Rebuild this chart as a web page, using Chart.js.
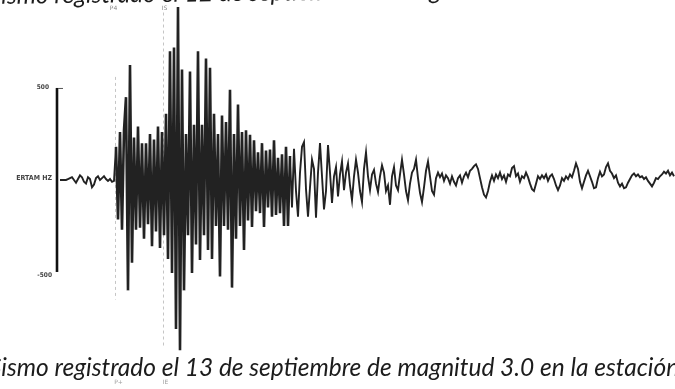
<!DOCTYPE html>
<html>
<head>
<meta charset="utf-8">
<script src="https://cdn.jsdelivr.net/npm/chart.js@4.4.1/dist/chart.umd.min.js"></script>
<style>
  html, body { margin: 0; padding: 0; background: #fff; overflow: hidden; }
  #wrap { position: relative; width: 675px; height: 389px; }
</style>
</head>
<body>
<div id="wrap"><canvas id="c" width="675" height="389"></canvas></div>
<script>
// Vertical-component record, one sample per step (counts)
const stationLabel = 'ERTAM HZ';
const scaleBarTicks = ['500', '-500'];
const scaleBarValues = [500, -500];
const pickLabelsTop = ['P4', 'IS'];
const pickLabelsBottom = ['P+', 'IE'];
const pickSamples = [27.5, 51.5];
const strongMotionSamples = [28, 115];
const caption = 'Sismo registrado el 13 de septiembre de magnitud 3.0 en la estación';
const previousCaption = 'Sismo registrado el 12 de septiembre de magnitud 2.9 en la estación';

const counts = [
  0, 0, 0,
  0, 5, 10, 15, 0, -15, 5, 25, 15, -10, -20, 15, 5, -40, -25, 10, 20, 0, 10, 20, 5, -5, 5, -10, -5,
  180, -215, 260, -270, 270, 450, -600, 625, -450, 230, -270, 290, -260, 200, -320, 200, -240, 250, -360,
  220, -280, 290, -370, 260, -300, 360, -430, 700, -505, 720, -810, 940, -925, 600, -600, 250, -300,
  590, -505, 300, -350, 700, -435, 300, -300, 660, -380, 610, -430, 360, -250, 250, -525, 350, -250,
  315, -270, 490, -585, 250, -320, 410, -250, 260, -380, 270, -220, 245, -255, 215, -170, 150, -180,
  200, -255, 160, -150, 165, -200, 215, -190, 120, -180, 140, -250, 180, -250, 130, -150, 170, -60, -200,
  40, 180, 205, -50, -200, -40, 110, 60, -205, 40, 200, 20, -160, -60, 190, 40, -125, 20, 70, -90,
  30, 100, -55, 40, 90, -30, -110, 20, 110, 40, -60, -120, 60, 150, 20, -55, 30, 55, -20, -65,
  20, 80, 40, -60, -30, -135, 20, 70, -30, -55, 30, 110, 30, -60, -110, -20, 40, 60, 110, 10,
  -70, -120, -40, 50, 100, 20, -60, -80, 10,
  40, 15, 35, -5, 25, 10, -20, 20, -10, -30, 10, 25, -15, 20, 40, 15, 50, 60, 75, 85,
  60, 10, -40, -80, -95, -60, -10, 25, -5, 30, 10, 40, 5, 25, -10, 30, 20, 65, 75, 20,
  35, -10, 20, 10, 40, 15, -20, -50, -60, -20, 20, 5, 25, 10, 30, -5, 20, 30, 5, -30,
  -55, -30, 10, -5, 20, 5, 30, 15, 50, 90, 60, -10, -45, -10, 25, 50, 20, -10, -45, -40,
  10, 45, 20, 30, 70, 90, 50, 35, 10, 25, -15, -35, -20, -45, -40, -15, 5, 25, 35, 20,
  30, 15, 20, 5, 15, -5, -20, -35, -15, 10, 5, 20, 30, 45, 35, 50, 25, 40, 20
];

const points = counts.map((v, i) => ({ x: i, y: v }));

function pickPixels(x) {
  return pickSamples.map(s => Math.round(x.getPixelForValue(s)) + 0.5);
}

// Scale bar, station name, phase picks and the captions around the trace
const decorations = {
  id: 'decorations',
  beforeDatasetsDraw(chart) {
    const { ctx, scales: { x, y } } = chart;
    const [px, sx] = pickPixels(x);
    ctx.save();
    ctx.strokeStyle = 'rgba(150,150,150,0.55)';
    ctx.lineWidth = 1;
    ctx.setLineDash([3, 3]);
    ctx.beginPath(); ctx.moveTo(px, y.getPixelForValue(560)); ctx.lineTo(px, y.getPixelForValue(-650)); ctx.stroke();
    ctx.beginPath(); ctx.moveTo(sx, y.getPixelForValue(910)); ctx.lineTo(sx, y.getPixelForValue(-900)); ctx.stroke();
    ctx.restore();
  },
  afterDraw(chart) {
    const { ctx, scales: { x, y } } = chart;
    const [px, sx] = pickPixels(x);
    ctx.save();
    // amplitude scale bar
    const bx = x.getPixelForValue(-1.5);
    const yTop = y.getPixelForValue(scaleBarValues[0]);
    const yBot = y.getPixelForValue(scaleBarValues[1]);
    ctx.strokeStyle = '#111';
    ctx.lineWidth = 2.6;
    ctx.beginPath(); ctx.moveTo(bx, yTop); ctx.lineTo(bx, yBot); ctx.stroke();
    ctx.lineWidth = 1;
    ctx.strokeStyle = '#555';
    ctx.beginPath(); ctx.moveTo(bx + 1, yTop + 0.5); ctx.lineTo(bx + 6, yTop + 0.5); ctx.stroke();

    ctx.fillStyle = '#444';
    ctx.textBaseline = 'middle';
    ctx.textAlign = 'right';
    ctx.font = 'bold 6.5px "DejaVu Sans Condensed", "DejaVu Sans", sans-serif';
    ctx.fillText(scaleBarTicks[0], bx - 8, yTop - 1);
    ctx.fillText(scaleBarTicks[1], bx - 5, yBot + 3);
    ctx.font = 'bold 7px "DejaVu Sans Condensed", "DejaVu Sans", sans-serif';
    ctx.fillText(stationLabel, bx - 5, y.getPixelForValue(10));

    // pick names
    ctx.fillStyle = '#8a8a8a';
    ctx.font = '6px "DejaVu Sans", sans-serif';
    ctx.textAlign = 'center';
    ctx.fillText(pickLabelsTop[0], px - 2, 8);
    ctx.fillText(pickLabelsTop[1], sx + 1, 8);
    ctx.fillStyle = '#a0a0a0';
    ctx.fillText(pickLabelsBottom[0], px + 3, 382);
    ctx.fillText(pickLabelsBottom[1], sx + 2, 382);

    // captions
    ctx.fillStyle = '#1c1c1c';
    ctx.font = 'italic 24.5px Lato, "Open Sans", sans-serif';
    ctx.textAlign = 'left';
    ctx.textBaseline = 'alphabetic';
    ctx.fillText(caption, -11, 376);

    ctx.save();
    ctx.translate(-11, 4);
    ctx.rotate(-0.012);
    ctx.fillText(previousCaption, 0, 0);
    ctx.restore();
    ctx.restore();
  }
};

new Chart(document.getElementById('c'), {
  type: 'line',
  data: {
    datasets: [{
      data: points,
      borderColor: '#222222',
      borderWidth: 1.9,
      pointRadius: 0,
      tension: 0,
      fill: false,
      segment: {
        borderWidth: c => (c.p0.parsed.x >= strongMotionSamples[0] && c.p0.parsed.x < strongMotionSamples[1]) ? 2.6 : 1.9
      }
    }]
  },
  options: {
    responsive: false,
    devicePixelRatio: 1,
    animation: false,
    layout: { padding: 0 },
    plugins: { legend: { display: false }, tooltip: { enabled: false } },
    scales: {
      x: { type: 'linear', display: false, min: -30, max: 307.5 },
      y: { type: 'linear', display: false, min: -1136, max: 978 }
    }
  },
  plugins: [decorations]
});
</script>
</body>
</html>
